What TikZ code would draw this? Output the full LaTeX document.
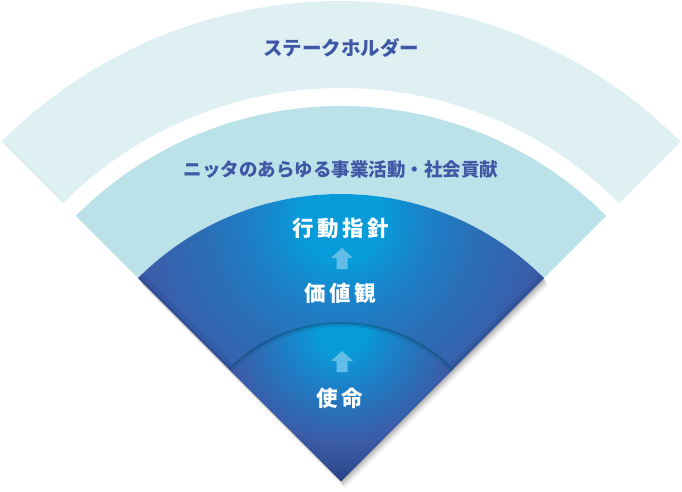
\documentclass[tikz,border=0pt]{standalone}
\usepackage{fontspec}
\newfontfamily\jp{Noto Sans CJK JP}
\definecolor{bandA}{RGB}{223,240,243}
\definecolor{bandB}{RGB}{187,226,232}
\definecolor{txtblue}{RGB}{62,88,166}
\definecolor{arrowc}{RGB}{98,190,232}
\definecolor{sA}{RGB}{8,155,217}
\definecolor{sB}{RGB}{26,131,201}
\definecolor{sC}{RGB}{42,111,184}
\definecolor{sD}{RGB}{60,92,168}
\definecolor{sE}{RGB}{48,76,146}
\definecolor{sF}{RGB}{30,50,104}
\definecolor{rim}{RGB}{18,80,125}
\pgfdeclareradialshading{outershade}{\pgfpoint{0bp}{0bp}}{color(0bp)=(sA); color(7bp)=(sA); color(13.5bp)=(sB); color(22bp)=(sC); color(34bp)=(sD); color(42bp)=(sE); color(50bp)=(sF)}
\pgfdeclareradialshading{innershade}{\pgfpoint{0bp}{0bp}}{color(0bp)=(sA); color(7bp)=(sA); color(16bp)=(sB); color(25bp)=(sC); color(34bp)=(sD); color(42bp)=(sE); color(50bp)=(sF)}
\begin{document}
\begin{tikzpicture}[x=1pt,y=1pt,
  bandtext/.style={font=\jp\bfseries\fontsize{19.5pt}{22pt}\selectfont, text=txtblue, inner sep=0pt},
  bandtextsm/.style={font=\jp\bfseries\fontsize{18.5pt}{22pt}\selectfont, text=txtblue, inner sep=0pt},
  coretext/.style={font=\jp\bfseries\fontsize{21.5pt}{24pt}\selectfont, text=white, inner sep=0pt},
  uparrow/.style={fill=arrowc},
  shadowfill/.style={fill=black, opacity=#1}]
\useasboundingbox (0,0) rectangle (682,491);
\coordinate (apex) at (341,10);
% outer band (stakeholders)
\fill[bandA] (apex) ++(135:480pt) arc[start angle=135,end angle=45,radius=480pt] -- ++(225:87pt) arc[start angle=45,end angle=135,radius=393pt] -- cycle;
% second band (activities)
\fill[bandB] (apex) ++(135:375pt) arc[start angle=135,end angle=45,radius=375pt] -- ++(225:88pt) arc[start angle=45,end angle=135,radius=287pt] -- cycle;
% drop shadow of core sector
\foreach \dx/\dy/\op in {1/-1/0.12, 2/-3/0.10, 3/-5/0.08, 4/-7/0.05}{
  \fill[shadowfill=\op, transform canvas={shift={(\dx pt,\dy pt)}}] (apex) -- ++(135:287pt) arc[start angle=135,end angle=45,radius=287pt] -- cycle;
}
% core sector
\begin{scope}
  \clip (apex) -- ++(135:287pt) arc[start angle=135,end angle=45,radius=287pt] -- cycle;
  \begin{pgfscope}
    \pgftransformshift{\pgfpoint{341pt}{271pt}}
    \pgftransformscale{6.0}
    \pgflowlevelsynccm
    \pgfuseshading{outershade}
  \end{pgfscope}
  \draw[sF, line width=12pt, opacity=.12] (apex) ++(135:287pt) -- (apex) -- ++(45:287pt);
  \draw[sF, line width=5pt, opacity=.18] (apex) ++(135:287pt) -- (apex) -- ++(45:287pt);
\end{scope}
% inner sector
\begin{scope}
  \clip (apex) -- ++(135:159pt) arc[start angle=135,end angle=45,radius=159pt] -- cycle;
  \begin{pgfscope}
    \pgftransformshift{\pgfpoint{341pt}{161pt}}
    \pgftransformscale{3.3}
    \pgflowlevelsynccm
    \pgfuseshading{innershade}
  \end{pgfscope}
  \draw[rim, line width=9pt, opacity=.22] (apex) ++(135:159pt) arc[start angle=135,end angle=45,radius=159pt];
  \draw[rim, line width=4pt, opacity=.5] (apex) ++(135:159pt) arc[start angle=135,end angle=45,radius=159pt];
\end{scope}
% texts
\node[bandtext] (stake) at (341,443) {ステークホルダー};
\node[bandtextsm] (biz) at (341,321) {ニッタのあらゆる事業活動・社会貢献};
\node[coretext] (guide) at (341,263) {行\hspace{3.5pt}動\hspace{3.5pt}指\hspace{3.5pt}針};
\node[coretext] (values) at (340,198) {価\hspace{3.5pt}値\hspace{3.5pt}観};
\node[coretext] (mission) at (340,93) {使\hspace{3.5pt}命};
% up arrows
\coordinate (arr1) at (342,243);
\coordinate (arr2) at (342,140);
\foreach \a in {arr1,arr2}{
  \fill[uparrow] (\a) -- ++(-11,-10) -- ++(5.5,0) -- ++(0,-11) -- ++(11,0) -- ++(0,11) -- ++(5.5,0) -- cycle;
}
\end{tikzpicture}
\end{document}
